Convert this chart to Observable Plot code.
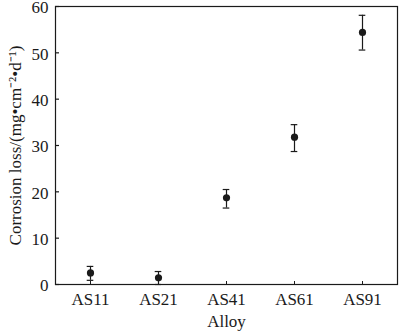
<!DOCTYPE html>
<html>
<head>
<meta charset="utf-8">
<script src="https://cdn.jsdelivr.net/npm/d3@7"></script>
<script src="https://cdn.jsdelivr.net/npm/@observablehq/plot@0.6"></script>
<style>
  html, body { margin: 0; padding: 0; background: #fff; }
  #chart svg { display: block; }
</style>
</head>
<body>
<div id="chart"></div>
<script>
const alloys = ["AS11", "AS21", "AS41", "AS61", "AS91"];
const loss = [2.5, 1.45, 18.7, 31.8, 54.4];
const upper = [3.9, 2.8, 20.5, 34.5, 58.1];
const lower = [0.9, 0.0, 16.5, 28.7, 50.6];
const yTicks = [0, 10, 20, 30, 40, 50, 60];
const xTitle = "Alloy";
const yTitle = "Corrosion loss/(mg\u2022cm\u207B\u00B2\u2022d\u207B\u00B9)";

const data = alloys.map((a, i) => ({alloy: a, v: loss[i], hi: upper[i], lo: lower[i]}));
const font = "'Liberation Serif', 'Times New Roman', serif";
const ink = "#1a1a1a";

const chart = Plot.plot({
  width: 400,
  height: 332,
  marginLeft: 55,
  marginRight: 3,
  marginTop: 6,
  marginBottom: 48,
  style: {fontFamily: font, fontSize: "17px", color: ink, background: "#fff"},
  x: {type: "band", domain: alloys, padding: 0, label: null},
  y: {domain: [0, 60], label: null},
  marks: [
    Plot.frame({stroke: ink, strokeWidth: 1.2}),
    Plot.axisY({ticks: yTicks, tickSize: -4, tickFormat: () => "", label: null, stroke: ink, strokeWidth: 1.2}),
    Plot.axisY({ticks: yTicks, tickSize: 0, tickPadding: 7, dy: 1.5, label: null, fill: ink, fontSize: 17}),
    Plot.axisX({tickSize: -3, tickPadding: 11, label: null, stroke: ink, fill: ink, fontSize: 17}),
    Plot.ruleX(data, {x: "alloy", y1: "lo", y2: "hi", stroke: ink, strokeWidth: 1.2}),
    Plot.tickY(data, {x: "alloy", y: "hi", stroke: ink, strokeWidth: 1.2, insetLeft: 30.7, insetRight: 30.7}),
    Plot.tickY(data, {x: "alloy", y: "lo", stroke: ink, strokeWidth: 1.2, insetLeft: 30.7, insetRight: 30.7}),
    Plot.dot(data, {x: "alloy", y: "v", r: 3.6, fill: ink, stroke: null}),
    Plot.text([xTitle], {frameAnchor: "bottom", dy: 37, text: d => d, fontSize: 17, fill: ink, textAnchor: "middle", lineAnchor: "middle"}),
    Plot.text([yTitle], {frameAnchor: "left", dx: -40, rotate: -90, text: d => d, fontSize: 17, fill: ink, textAnchor: "middle", lineAnchor: "middle"})
  ]
});
document.getElementById("chart").appendChild(chart);
</script>
</body>
</html>
